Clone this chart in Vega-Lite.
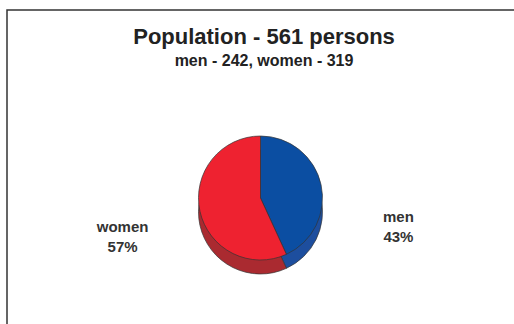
{
  "$schema": "https://vega.github.io/schema/vega-lite/v6.json",
  "width": 507,
  "height": 314,
  "autosize": {"type": "none"},
  "padding": {"left": 7, "top": 10, "right": 0, "bottom": 0},
  "background": "white",
  "view": {"stroke": "#333333", "strokeWidth": 1.5, "strokeDash": [507, 821, 314, 10]},
  "title": {
    "text": "Population - 561 persons",
    "subtitle": "men - 242, women - 319",
    "font": "Liberation Sans",
    "fontSize": 22,
    "fontWeight": "bold",
    "color": "#222222",
    "subtitleFont": "Liberation Sans",
    "subtitleFontSize": 16,
    "subtitleFontWeight": "bold",
    "subtitleColor": "#222222",
    "subtitlePadding": 4,
    "anchor": "middle",
    "offset": -60,
    "dx": 3.5
  },
  "data": {
    "values": [
      {"sex": "men", "count": 242, "label": "men\n43%"},
      {"sex": "women", "count": 319, "label": "women\n57%"}
    ]
  },
  "encoding": {
    "theta": {"field": "count", "type": "quantitative", "stack": true}
  },
  "layer": [
    {
      "mark": {"type": "arc", "outerRadius": 62, "yOffset": 45, "stroke": "#333333", "strokeWidth": 0.7},
      "encoding": {
        "color": {"field": "sex", "type": "nominal", "scale": {"domain": ["men", "women"], "range": ["#1D4E9E", "#AA2A30"]}, "legend": null}
      }
    },
    {
      "mark": {"type": "arc", "outerRadius": 62, "yOffset": 31, "stroke": "#333333", "strokeWidth": 0.7},
      "encoding": {
        "color": {"field": "sex", "type": "nominal", "scale": {"domain": ["men", "women"], "range": ["#0B4EA2", "#EE2230"]}, "legend": null}
      }
    },
    {
      "mark": {"type": "text", "radius": 138, "yOffset": 55, "font": "Liberation Sans", "fontSize": 15, "fontWeight": "bold", "color": "#333333", "align": "center", "baseline": "middle", "lineBreak": "\n", "lineHeight": 20},
      "encoding": {
        "theta": {"field": "count", "type": "quantitative", "stack": true, "scale": {"range": [0.1815, 6.4647]}},
        "text": {"field": "label", "type": "nominal"}
      }
    }
  ],
  "resolve": {"scale": {"color": "independent", "theta": "independent"}}
}
